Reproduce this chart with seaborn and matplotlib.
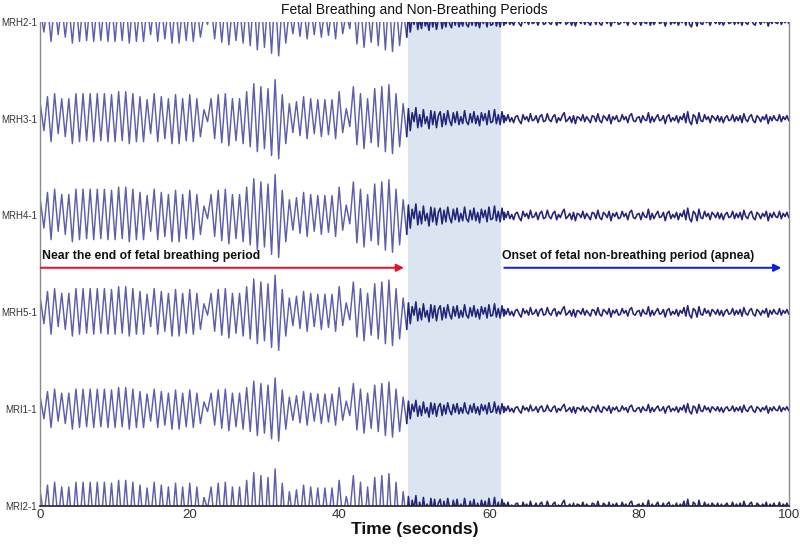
import numpy as np
import pandas as pd
import matplotlib
matplotlib.use("Agg")
import matplotlib.pyplot as plt
import seaborn as sns

# ---------------- data ----------------
channels = ["MRH2-1", "MRH3-1", "MRH4-1", "MRH5-1", "MRI1-1", "MRI2-1"]
offsets = [5, 4, 3, 2, 1, 0]
gains = [0.85, 1.0, 1.05, 0.95, 0.8, 0.95]

# breathing cycles (peak / trough magnitudes, master trace)
period = 0.95
peaks = [14, 22, 25, 20, 20, 25, 25, 25, 25, 25, 24, 27, 27, 25, 22, 19,
         25, 22, 20, 24, 20, 24, 20, 9, 20, 24, 25, 20, 20, 27, 35, 32,
         30, 39, 24, 15, 17, 22, 20, 19, 19, 19, 27, 10, 32, 25, 20, 30,
         32, 34, 25, 15]
troughs = [12, 23, 15, 18, 25, 23, 22, 23, 22, 23, 23, 22, 25, 23, 23, 15,
           23, 20, 25, 25, 22, 23, 18, 3, 20, 24, 27, 22, 25, 28, 33, 30,
           37, 40, 25, 14, 17, 20, 15, 18, 16, 20, 14, 8, 26, 30, 24, 28,
           33, 35, 28, 18]

# transition (49.2 s - 62 s) and apnea (62 s - 100 s), sampled every 0.25 s
step = 0.25
transition_start = 49.2
transition = [10, -12, 6, -3, 11, -9, 4, -8, 9, -5, 2, -10, 8, -6, 7, -9,
              3, 7, -8, 5, -6, 8, -2, -7, 6, -4, 7, -6, 2, -5, 8, -3,
              -6, 5, -4, 7, -5, 3, -7, 6, -2, 5, -6, 8, -4, -3, 9, -5,
              4, -6, 7, -4]
apnea_start = 62.0
apnea = [3, -2, 4, -3, 1, -4, 2, 3, -2, -5, 4, -1, 2, -3, 5, -2,
         -1, 3, -4, 2, 4, -3, -2, 5, -1, -3, 2, 4, -4, 1, -2, 3,
         6, -3, -1, 2, -4, 3, -5, 2, 1, -2, 4, -3, 2, -1, -4, 3,
         2, -3, 5, -2, -4, 3, 1, -2, 4, -5, 2, -1, 3, -3, -2, 4,
         -1, 2, -4, 3, 5, -2, -3, 1, 2, -4, 3, -1, -2, 6, -4, 2,
         -3, 1, 4, -2, -1, 3, -5, 2, 4, -3, 1, -2, 3, -4, 2, -1,
         5, -4, 7, -3, -6, 4, 2, -5, 6, -2, -3, 4, -1, 2, -4, 3,
         1, -2, 3, -3, 2, -4, 1, 3, -2, -1, 4, -3, 2, -2, 3, -4,
         5, -1, -3, 2, 4, -2, -4, 3, 1, -3, 2, -1, 4, -5, 2, -2,
         3, -1, -2, 4, -3, 2, -1, 3, -2]

shade_span = (49.2, 61.6)
xticks = [0, 20, 40, 60, 80, 100]

# ---------------- build master trace ----------------
t_b, v_b = [], []
for i, (p, tr) in enumerate(zip(peaks, troughs)):
    t_b += [0.05 + i * period, 0.05 + i * period + period / 2]
    v_b += [p, -tr]
t_q, v_q = [t_b[-1]], [v_b[-1]]
for j, v in enumerate(transition):
    t_q.append(transition_start + j * step)
    v_q.append(v)
for j, v in enumerate(apnea):
    t_q.append(apnea_start + j * step)
    v_q.append(v)
px_per_unit = 96.8

frames = []
for ch, off, g in zip(channels, offsets, gains):
    frames.append(pd.DataFrame({"time": t_b,
                                "value": off + g * np.array(v_b, float) / px_per_unit,
                                "channel": ch, "phase": "breathing"}))
    frames.append(pd.DataFrame({"time": t_q,
                                "value": off + g * np.array(v_q, float) / px_per_unit,
                                "channel": ch, "phase": "apnea"}))
df = pd.concat(frames, ignore_index=True)

# ---------------- plot ----------------
sns.set_style("white")
plt.rcParams["font.family"] = ["Liberation Sans", "DejaVu Sans"]

fig = plt.figure(figsize=(8.0, 5.46), dpi=100)
ax = fig.add_axes([0.05, 0.0733, 0.936, 0.8867])

ax.axvspan(*shade_span, color="#dbe5f1", zorder=0, lw=0)

for ch in channels:
    sub = df[(df["channel"] == ch) & (df["phase"] == "breathing")]
    sns.lineplot(data=sub, x="time", y="value", ax=ax, color="#5e5eaa",
                 lw=1.05, estimator=None, sort=False, zorder=2)
    sub = df[(df["channel"] == ch) & (df["phase"] == "apnea")]
    sns.lineplot(data=sub, x="time", y="value", ax=ax, color="#242478",
                 lw=1.15, estimator=None, sort=False, zorder=2)

ax.set_xlim(0, 100)
ax.set_ylim(0, 5)
ax.set_yticks(offsets)
ax.set_yticklabels(channels, fontsize=7, color="#333333")
ax.tick_params(axis="y", length=0, pad=2)

ax.set_xticks(xticks)
ax.set_xticks(np.arange(0, 101, 2), minor=True)
ax.tick_params(axis="x", which="both", direction="in", length=5,
               width=1, color="#222222", labelsize=9.5, labelcolor="#333333",
               pad=2)

ax.set_xlabel("Time (seconds)", fontsize=12.5, fontweight="bold",
              color="#111111", labelpad=1)
ax.set_ylabel("")
ax.set_title("Fetal Breathing and Non-Breathing Periods", fontsize=10,
             color="#111111", pad=6)

for side in ["left", "right"]:
    ax.spines[side].set_color("#8a8a8a")
    ax.spines[side].set_linewidth(1.0)
ax.spines["bottom"].set_color("#222222")
ax.spines["bottom"].set_linewidth(1.2)
ax.spines["top"].set_visible(False)

arrow_y = 2.46
ax.annotate("", xy=(48.6, arrow_y), xytext=(0.1, arrow_y),
            arrowprops=dict(arrowstyle="-|>", color="#e8102a", lw=1.4,
                            mutation_scale=11, shrinkA=0, shrinkB=0))
ax.text(0.3, arrow_y + 0.06, "Near the end of fetal breathing period",
        fontsize=8.8, fontweight="bold", color="#111111", va="bottom")
ax.annotate("", xy=(99.0, arrow_y), xytext=(62.0, arrow_y),
            arrowprops=dict(arrowstyle="-|>", color="#0a1ee8", lw=1.4,
                            mutation_scale=11, shrinkA=0, shrinkB=0))
ax.text(61.7, arrow_y + 0.06, "Onset of fetal non-breathing period (apnea)",
        fontsize=8.8, fontweight="bold", color="#111111", va="bottom")

fig.savefig("out.png", dpi=100)
